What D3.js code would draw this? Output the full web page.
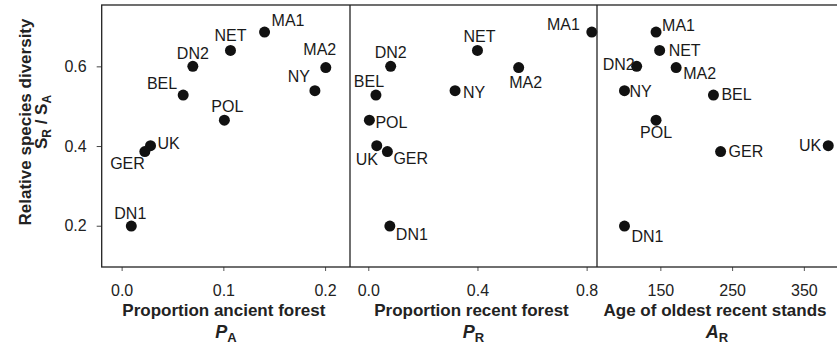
<!DOCTYPE html>
<html>
<head>
<meta charset="utf-8">
<script src="https://cdnjs.cloudflare.com/ajax/libs/d3/7.8.5/d3.min.js"></script>
<style>
  body { margin: 0; background: #fff; }
  svg { font-family: "Liberation Sans", Arial, sans-serif; }
</style>
</head>
<body>
<div id="chart"></div>
<script>
// data
const sites = ['MA1', 'NET', 'DN2', 'MA2', 'NY', 'BEL', 'POL', 'UK', 'GER', 'DN1'];
const diversity = [0.686, 0.640, 0.600, 0.597, 0.539, 0.528, 0.465, 0.401, 0.386, 0.199];
const propAncient = [0.1405, 0.107, 0.070, 0.2007, 0.190, 0.0605, 0.101, 0.0284, 0.0228, 0.0095];
const propRecent = [0.819, 0.400, 0.082, 0.551, 0.318, 0.028, 0.004, 0.031, 0.070, 0.079];
const ageRecent = [144, 149, 117, 172, 100, 224, 144, 384, 234, 100];

const yTicks = [0.2, 0.4, 0.6];

const w = 837;
const h = 346;
const plotTop = 5;
const plotBottom = 267;

// label placement: [dx, dy, anchor]
const labelPos = [
  {
    MA1: [7, -6, 'start'], NET: [0, -9, 'middle'], DN2: [0, -7, 'middle'],
    MA2: [-6, -13, 'middle'], NY: [-5, -9, 'end'], BEL: [-6, -6, 'end'],
    POL: [3, -8, 'middle'], UK: [7, 3, 'start'], GER: [0, 17, 'end'],
    DN1: [-1, -7, 'middle'],
  },
  {
    MA1: [-12, -2, 'end'], NET: [2, -8, 'middle'], DN2: [0, -8, 'middle'],
    MA2: [7, 20, 'middle'], NY: [8, 7, 'start'], BEL: [-7, -8, 'middle'],
    POL: [6, 8, 'start'], UK: [-10, 19, 'middle'], GER: [6, 12, 'start'],
    DN1: [6, 14, 'start'],
  },
  {
    MA1: [6, -1, 'start'], NET: [9, 6, 'start'], DN2: [-2, 4, 'end'],
    MA2: [7, 11, 'start'], NY: [5, 6, 'start'], BEL: [8, 5, 'start'],
    POL: [0, 18, 'middle'], UK: [-7, 5, 'end'], GER: [8, 5, 'start'],
    DN1: [7, 16, 'start'],
  },
];

const panels = [
  { x0: 101.7, x1: 350, domain: [-0.0196, 0.2245], ticks: [0, 0.1, 0.2], fmt: d3.format('.1f'),
    values: propAncient, title: 'Proportion ancient forest', sym: 'P', sub: 'A' },
  { x0: 350, x1: 597, domain: [-0.067, 0.838], ticks: [0, 0.4, 0.8], fmt: d3.format('.1f'),
    values: propRecent, title: 'Proportion recent forest', sym: 'P', sub: 'R' },
  { x0: 597, x1: 838, domain: [61.7, 397.6], ticks: [150, 250, 350], fmt: d3.format('d'),
    values: ageRecent, title: 'Age of oldest recent stands', sym: 'A', sub: 'R' },
];

const svg = d3.select('#chart')
  .append('svg')
  .attr('width', w)
  .attr('height', h);

const y = d3.scaleLinear()
  .domain([0.0964, 0.754])
  .range([plotBottom, plotTop]);

// y axis
const yAxis = svg.append('g')
  .attr('transform', `translate(${panels[0].x0},0)`)
  .call(d3.axisLeft(y).tickValues(yTicks).tickFormat(d3.format('.1f')).tickSize(5).tickPadding(10));
yAxis.select('.domain').remove();
yAxis.selectAll('line').attr('stroke', '#444');
yAxis.selectAll('text').attr('font-size', 16).attr('fill', '#222')
  .attr('font-family', '"Liberation Sans", Arial, sans-serif');

const yTitle = svg.append('g')
  .attr('transform', 'translate(0,122) rotate(-90)')
  .attr('font-weight', 'bold')
  .attr('fill', '#222')
  .attr('text-anchor', 'middle');
yTitle.append('text')
  .attr('y', 31)
  .attr('font-size', 17)
  .text('Relative species diversity');
const yTitle2 = yTitle.append('text')
  .attr('y', 47)
  .attr('font-size', 17);
yTitle2.append('tspan').text('S');
yTitle2.append('tspan').attr('font-size', 12).attr('dy', 4).text('R');
yTitle2.append('tspan').attr('dy', -4).text(' / S');
yTitle2.append('tspan').attr('font-size', 12).attr('dy', 4).text('A');

panels.forEach((p, pi) => {
  const x = d3.scaleLinear().domain(p.domain).range([p.x0, p.x1]);
  const g = svg.append('g');

  const xAxis = g.append('g')
    .attr('transform', `translate(0,${plotBottom})`)
    .call(d3.axisBottom(x).tickValues(p.ticks).tickFormat(p.fmt).tickSize(4).tickPadding(14));
  xAxis.select('.domain').remove();
  xAxis.selectAll('line').attr('stroke', '#555');
  xAxis.selectAll('text').attr('font-size', 16).attr('fill', '#222')
    .attr('font-family', '"Liberation Sans", Arial, sans-serif');

  const cx = (p.x0 + Math.min(p.x1, w)) / 2;
  g.append('text')
    .attr('x', cx - 2)
    .attr('y', 316)
    .attr('text-anchor', 'middle')
    .attr('font-size', 17)
    .attr('font-weight', 'bold')
    .attr('fill', '#222')
    .text(p.title);

  const sym = g.append('text')
    .attr('x', cx)
    .attr('y', 338)
    .attr('text-anchor', 'middle')
    .attr('font-size', 18)
    .attr('font-weight', 'bold')
    .attr('fill', '#222');
  sym.append('tspan').attr('font-style', 'italic').text(p.sym);
  sym.append('tspan').attr('font-size', 13).attr('dy', 4).text(p.sub);

  const pts = sites.map((s, i) => ({ site: s, xv: p.values[i], yv: diversity[i] }));

  g.selectAll('circle')
    .data(pts)
    .enter()
    .append('circle')
    .attr('cx', (d) => x(d.xv))
    .attr('cy', (d) => y(d.yv))
    .attr('r', 5.5)
    .attr('fill', '#111');

  g.selectAll('text.lab')
    .data(pts)
    .enter()
    .append('text')
    .attr('class', 'lab')
    .attr('x', (d) => x(d.xv) + labelPos[pi][d.site][0])
    .attr('y', (d) => y(d.yv) + labelPos[pi][d.site][1])
    .attr('text-anchor', (d) => labelPos[pi][d.site][2])
    .attr('font-size', 16)
    .attr('fill', '#1a1a1a')
    .text((d) => d.site);
});

// frame with panel dividers
const frame = svg.append('g')
  .attr('fill', 'none')
  .attr('stroke', '#222')
  .attr('stroke-width', 1.3);
frame.append('rect')
  .attr('x', panels[0].x0)
  .attr('y', plotTop)
  .attr('width', 840 - panels[0].x0)
  .attr('height', plotBottom - plotTop);
[panels[1].x0, panels[2].x0].forEach((xd) => {
  frame.append('line')
    .attr('x1', xd).attr('x2', xd)
    .attr('y1', plotTop).attr('y2', plotBottom);
});
</script>
</body>
</html>
